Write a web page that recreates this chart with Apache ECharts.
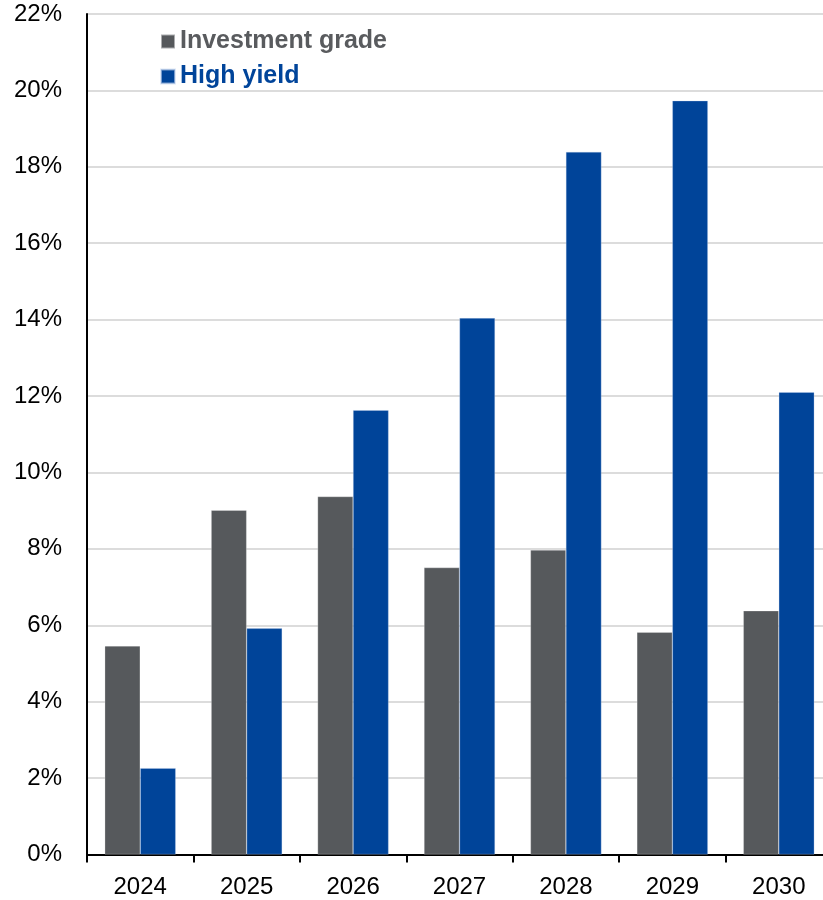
<!DOCTYPE html>
<html>
<head>
<meta charset="utf-8">
<script src="https://cdn.jsdelivr.net/npm/echarts@6/dist/echarts.min.js"></script>
<style>
html,body{margin:0;padding:0;background:#fff;overflow:hidden;width:823px;height:900px;}
#chart{width:840px;height:900px;}
</style>
</head>
<body>
<div id="chart"></div>
<script>
const categories = ['2024','2025','2026','2027','2028','2029','2030'];
const investmentGrade = [5.46, 9.01, 9.37, 7.51, 7.97, 5.82, 6.38];
const highYield = [2.26, 5.92, 11.63, 14.04, 18.39, 19.73, 12.10];
const yTicks = {min: 0, max: 22, interval: 2};

const chart = echarts.init(document.getElementById('chart'), null, {renderer: 'canvas'});
const font = '"Liberation Sans", Arial, sans-serif';
chart.setOption({
  animation: false,
  textStyle: {fontFamily: font},
  grid: {left: 87, top: 14, width: 745, height: 840.5, containLabel: false},
  legend: {
    orient: 'vertical',
    left: 155,
    top: 24,
    itemWidth: 14,
    itemHeight: 14,
    itemGap: 10,
    icon: 'rect',
    textStyle: {fontFamily: font, fontSize: 25, fontWeight: 'bold'},
    data: [
      {name: 'Investment grade', textStyle: {color: '#595b5e'}},
      {name: 'High yield', textStyle: {color: '#00449a'}}
    ]
  },
  xAxis: {
    type: 'category',
    data: categories,
    axisLine: {lineStyle: {color: '#000', width: 2}},
    axisTick: {show: true, length: 8, lineStyle: {color: '#000', width: 2}},
    axisLabel: {color: '#000', fontSize: 24, margin: 21, fontFamily: font},
    splitLine: {show: false}
  },
  yAxis: {
    type: 'value',
    min: yTicks.min, max: yTicks.max, interval: yTicks.interval,
    axisLine: {show: true, lineStyle: {color: '#000', width: 2}},
    axisTick: {show: false},
    axisLabel: {color: '#000', fontSize: 24, margin: 25, fontFamily: font, formatter: '{value}%'},
    splitLine: {show: true, lineStyle: {color: '#d0d0d0', width: 1.5}}
  },
  series: [
    {name: 'Investment grade', type: 'bar', data: investmentGrade, barWidth: 35.5, barGap: '0%',
     itemStyle: {color: '#56595c', borderColor: 'rgba(255,255,255,0.5)', borderWidth: 0.5}},
    {name: 'High yield', type: 'bar', data: highYield, barWidth: 35.5, barGap: '0%',
     itemStyle: {color: '#004499', borderColor: 'rgba(200,215,240,0.6)', borderWidth: 0.5}}
  ]
});
</script>
</body>
</html>
